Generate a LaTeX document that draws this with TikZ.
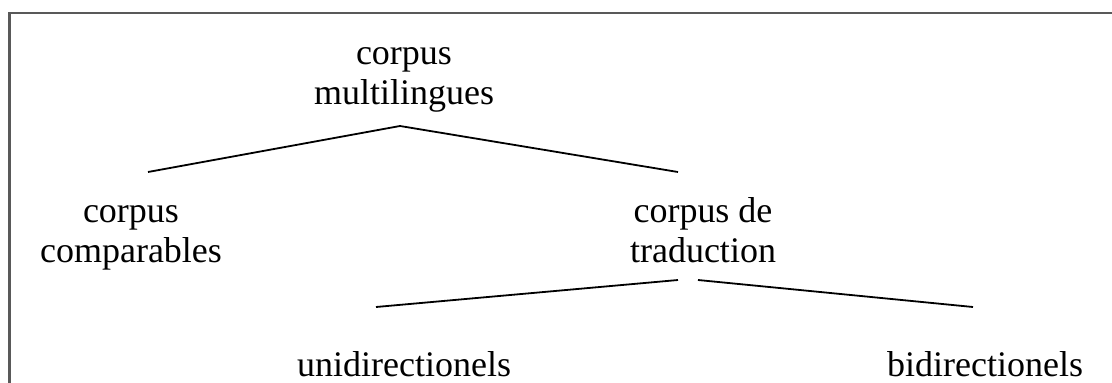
\documentclass[tikz,border=0pt]{standalone}
\usepackage{fontspec}
\setmainfont{Liberation Serif}
\usepackage{tikz}
\usetikzlibrary{positioning}
\tikzset{
    term/.style={align=center, inner sep=0pt, anchor=base, font=\fontsize{36}{40}\selectfont},
    branch/.style={draw=black, line width=1.8pt},
    frame/.style={draw=black!65, line width=2.2pt}
}
\begin{document}
\begin{tikzpicture}[x=1pt, y=-1pt]
    \useasboundingbox (0,0) rectangle (1112,383);
    \draw[frame] (9.5,383) -- (9.5,13) -- (1112,13);
    % terms
    \node[term] (multi) at (404,104) {corpus\\multilingues};
    \node[term] (comp) at (131,262) {corpus\\comparables};
    \node[term] (trad) at (703,262) {corpus de\\traduction};
    \node[term] (uni) at (404,376) {unidirectionels};
    \node[term] (bi) at (985,376) {bidirectionels};
    % branch points
    \coordinate (multi-s) at (400,126);
    \coordinate (comp-n) at (148,172);
    \coordinate (trad-n) at (678,172);
    \coordinate (trad-sl) at (678,280);
    \coordinate (trad-sr) at (698,280);
    \coordinate (uni-n) at (376,307);
    \coordinate (bi-n) at (973,307);
    \draw[branch] (comp-n) -- (multi-s) -- (trad-n);
    \draw[branch] (uni-n) -- (trad-sl);
    \draw[branch] (trad-sr) -- (bi-n);
\end{tikzpicture}
\end{document}
